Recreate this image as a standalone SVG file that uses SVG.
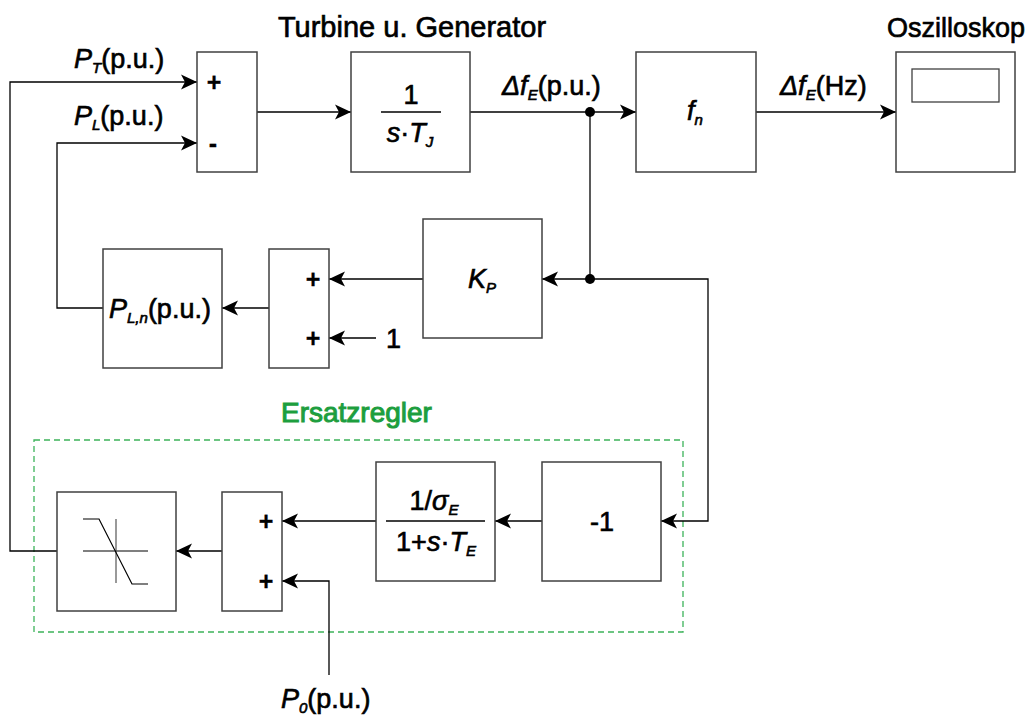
<svg xmlns="http://www.w3.org/2000/svg" width="1032" height="718" viewBox="0 0 1032 718">
<style>
.blk{fill:#fff;stroke:#404040;stroke-width:1.5}
.ln{fill:none;stroke:#000;stroke-width:1.3}
.t{font-family:"Liberation Sans",Arial,sans-serif;fill:#000;stroke:#000;stroke-width:0.65}
.lab{font-size:27px}
.sg{font-size:25px;font-weight:bold;stroke-width:0.3}
.it{font-style:italic}
.sub{font-size:15px;font-style:italic}
.grn{fill:#1d9e3e;stroke:#1d9e3e;stroke-width:1}
</style>
<defs>
<marker id="ah" markerWidth="17" markerHeight="16" refX="16" refY="8" orient="auto" markerUnits="userSpaceOnUse">
<path d="M0,0.5 L16,8 L0,15.5 L4,8 Z" fill="#000"/>
</marker>
</defs>
<rect width="1032" height="718" fill="#fff"/>

<g id="titles">
<text class="t" x="412" y="37" font-size="29" text-anchor="middle">Turbine u. Generator</text>
<text class="t" x="1025" y="37" font-size="27" text-anchor="end">Oszilloskop</text>
<text class="t grn" x="281" y="422" font-size="28">Ersatzregler</text>
</g>

<g id="ersatzregler-frame">
<rect x="34" y="440" width="649" height="192" fill="none" stroke="#3cb35a" stroke-width="1.3" stroke-dasharray="6,4"/>
</g>

<g id="connectors">
<path class="ln" d="M57,551 H10 V82 H197" marker-end="url(#ah)"/>
<path class="ln" d="M103,308 H57 V143 H197" marker-end="url(#ah)"/>
<path class="ln" d="M257,112 H351" marker-end="url(#ah)"/>
<path class="ln" d="M470,112 H636" marker-end="url(#ah)"/>
<path class="ln" d="M756,112 H896" marker-end="url(#ah)"/>
<path class="ln" d="M590,112 V279"/>
<path class="ln" d="M590,279 H542" marker-end="url(#ah)"/>
<path class="ln" d="M590,279 H708 V521 H661" marker-end="url(#ah)"/>
<path class="ln" d="M423,279 H329" marker-end="url(#ah)"/>
<path class="ln" d="M376,338 H329" marker-end="url(#ah)"/>
<path class="ln" d="M269,308 H222" marker-end="url(#ah)"/>
<path class="ln" d="M542,521 H495" marker-end="url(#ah)"/>
<path class="ln" d="M376,521 H282" marker-end="url(#ah)"/>
<path class="ln" d="M329,675 V581 H282" marker-end="url(#ah)"/>
<path class="ln" d="M222,551 H176" marker-end="url(#ah)"/>
<circle cx="590" cy="112" r="5" fill="#000"/>
<circle cx="590" cy="279" r="5" fill="#000"/>
</g>

<g id="labels">
<text class="t lab" x="74" y="68"><tspan class="it">P</tspan><tspan class="sub" dy="5">T</tspan><tspan dy="-5">(p.u.)</tspan></text>
<text class="t lab" x="74" y="125"><tspan class="it">P</tspan><tspan class="sub" dy="5">L</tspan><tspan dy="-5">(p.u.)</tspan></text>
<text class="t lab" x="502" y="95"><tspan class="it">Δf</tspan><tspan class="sub" dy="5">E</tspan><tspan dy="-5">(p.u.)</tspan></text>
<text class="t lab" x="780" y="95"><tspan class="it">Δf</tspan><tspan class="sub" dy="5">E</tspan><tspan dy="-5">(Hz)</tspan></text>
<text class="t lab" x="386" y="348">1</text>
<text class="t lab" x="281" y="708"><tspan class="it">P</tspan><tspan class="sub" dy="5">0</tspan><tspan dy="-5">(p.u.)</tspan></text>
</g>

<g id="sum1">
<rect class="blk" x="197" y="52" width="60" height="120"/>
<text class="t sg" x="214" y="91" text-anchor="middle">+</text>
<text class="t sg" x="213" y="152" text-anchor="middle">-</text>
</g>

<g id="integrator">
<rect class="blk" x="351" y="52" width="119" height="120"/>
<text class="t lab" x="411" y="104" text-anchor="middle">1</text>
<line x1="381" y1="112" x2="441" y2="112" stroke="#000" stroke-width="1.3"/>
<text class="t lab" x="410" y="142" text-anchor="middle"><tspan class="it">s</tspan>·<tspan class="it">T</tspan><tspan class="sub" dy="5">J</tspan></text>
</g>

<g id="fn">
<rect class="blk" x="636" y="52" width="120" height="120"/>
<text class="t lab" x="695" y="120" text-anchor="middle"><tspan class="it">f</tspan><tspan class="sub" dy="5">n</tspan></text>
</g>

<g id="oszilloskop">
<rect class="blk" x="896" y="52" width="119" height="120"/>
<rect x="912" y="69" width="87" height="33" fill="#fff" stroke="#404040" stroke-width="1.3"/>
</g>

<g id="kp">
<rect class="blk" x="423" y="219" width="119" height="119"/>
<text class="t lab" x="482" y="288" text-anchor="middle"><tspan class="it">K</tspan><tspan class="sub" dy="5">P</tspan></text>
</g>

<g id="sum2">
<rect class="blk" x="269" y="249" width="60" height="119"/>
<text class="t sg" x="313" y="288" text-anchor="middle">+</text>
<text class="t sg" x="313" y="347" text-anchor="middle">+</text>
</g>

<g id="pln">
<rect class="blk" x="103" y="249" width="119" height="119"/>
<text class="t lab" x="109" y="318"><tspan class="it">P</tspan><tspan class="sub" dy="5">L,n</tspan><tspan dy="-5">(p.u.)</tspan></text>
</g>

<g id="minus1">
<rect class="blk" x="542" y="462" width="119" height="119"/>
<text class="t lab" x="602" y="531" font-size="29" text-anchor="middle">-1</text>
</g>

<g id="pt1">
<rect class="blk" x="376" y="462" width="119" height="119"/>
<text class="t lab" x="434" y="510" text-anchor="middle">1/<tspan class="it">σ</tspan><tspan class="sub" dy="5">E</tspan></text>
<line x1="386" y1="521" x2="485" y2="521" stroke="#000" stroke-width="1.3"/>
<text class="t lab" x="436" y="551" text-anchor="middle">1+<tspan class="it">s</tspan>·<tspan class="it">T</tspan><tspan class="sub" dy="5">E</tspan></text>
</g>

<g id="sum3">
<rect class="blk" x="222" y="492" width="60" height="119"/>
<text class="t sg" x="266" y="530" text-anchor="middle">+</text>
<text class="t sg" x="266" y="590" text-anchor="middle">+</text>
</g>

<g id="saturation">
<rect class="blk" x="57" y="492" width="119" height="119"/>
<line x1="83" y1="551" x2="148" y2="551" stroke="#000" stroke-width="1.2"/>
<line x1="116" y1="519" x2="116" y2="583" stroke="#555" stroke-width="1.2"/>
<polyline points="83,519 99,519 132,584 148,584" fill="none" stroke="#000" stroke-width="1.2"/>
</g>
</svg>
